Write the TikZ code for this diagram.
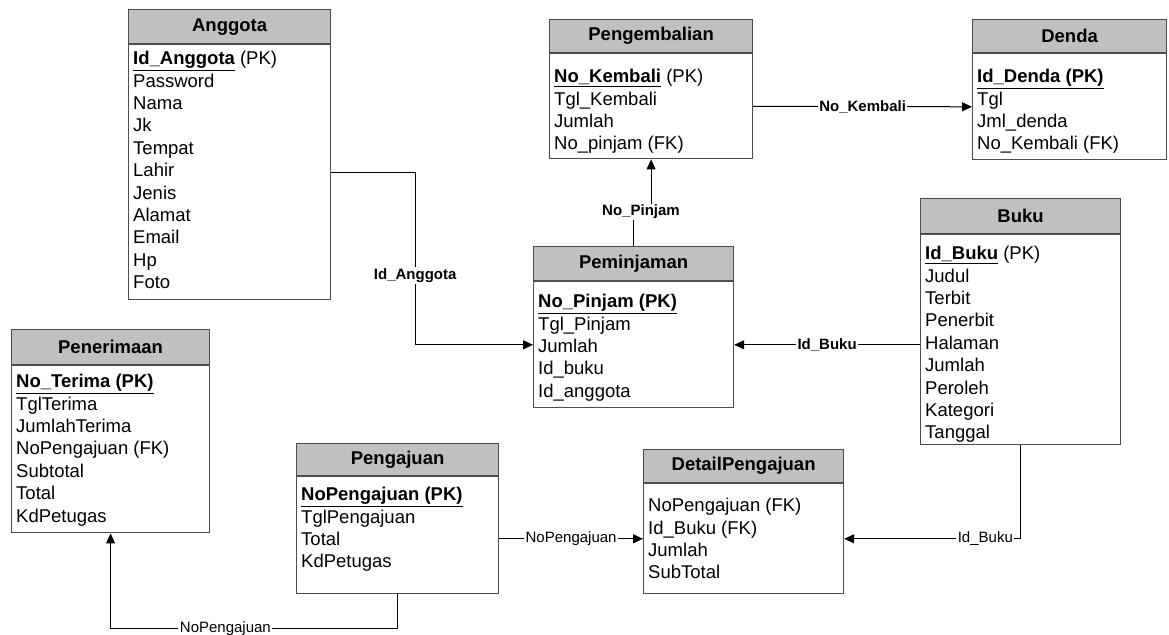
\documentclass[tikz,border=0pt]{standalone}
\usepackage{fontspec}
\setmainfont{Liberation Sans}
\usetikzlibrary{arrows.meta}

\definecolor{headgray}{HTML}{C0C0C0}
\definecolor{edgegray}{HTML}{4D4D4D}

\tikzset{
  ehead/.style={draw=edgegray, fill=headgray, line width=1.2pt, anchor=north west,
    inner sep=0pt, font=\fontsize{18.5pt}{22pt}\selectfont\bfseries},
  ebody/.style={draw=edgegray, fill=white, line width=1.2pt, anchor=north west, inner sep=0pt},
  attr/.style={anchor=base west, inner sep=0pt, font=\fontsize{18.5pt}{22pt}\selectfont},
  rel/.style={draw, line width=1pt, -{Triangle[length=10pt,width=9pt]}},
  keylbl/.style={fill=white, inner sep=1.5pt, font=\fontsize{15pt}{18pt}\selectfont\bfseries},
  reflbl/.style={fill=white, inner sep=1.5pt, font=\fontsize{15pt}{18pt}\selectfont},
}

\newcommand{\pkey}[1]{\textbf{\underline{#1}}}
% table: name, x, y, width, head height, body height, title
\newcommand{\entity}[7]{%
  \node[ehead, minimum width=#4pt, minimum height=#5pt] (#1) at (#2,#3) {#7};
  \node[ebody, minimum width=#4pt, minimum height=#6pt] (#1b) at (#1.south west) {};
}
% columns: name, first row offset, rows
\newcommand{\attrs}[3]{%
  \foreach \t [count=\i] in {#3}
    \node[attr] (#1-\i) at ([shift={(5,{#2+6.5+(\i-1)*22.4})}]#1b.north west) {\t};
}

\begin{document}
\begin{tikzpicture}[x=1pt, y=-1pt]
  \useasboundingbox[fill=white] (0,0) rectangle (1169,634);

  \entity{anggota}{128}{9}{202}{34}{255}{Anggota}
  \attrs{anggota}{14}{{\pkey{Id\_Anggota} (PK)}, Password, Nama, Jk, Tempat, Lahir,
    Jenis, Alamat, Email, Hp, Foto}

  \entity{pengembalian}{549}{19}{203}{33}{105}{Pengembalian}
  \attrs{pengembalian}{23}{{\pkey{No\_Kembali} (PK)}, Tgl\_Kembali, Jumlah, No\_pinjam (FK)}

  \entity{denda}{972}{19}{194}{33}{106}{Denda}
  \attrs{denda}{23}{\pkey{Id\_Denda (PK)}, Tgl, Jml\_denda, No\_Kembali (FK)}

  \entity{penerimaan}{11}{329}{198}{35}{167}{Penerimaan}
  \attrs{penerimaan}{16}{\pkey{No\_Terima (PK)}, TglTerima, JumlahTerima,
    NoPengajuan (FK), Subtotal, Total, KdPetugas}

  \entity{peminjaman}{533}{246}{200}{34}{126}{Peminjaman}
  \attrs{peminjaman}{20}{\pkey{No\_Pinjam (PK)}, Tgl\_Pinjam, Jumlah, Id\_buku, Id\_anggota}

  \entity{buku}{920}{198}{200}{35}{210}{Buku}
  \attrs{buku}{19}{{\pkey{Id\_Buku} (PK)}, Judul, Terbit, Penerbit, Halaman, Jumlah,
    Peroleh, Kategori, Tanggal}

  \entity{pengajuan}{296}{443}{202}{32}{117}{Pengajuan}
  \attrs{pengajuan}{18}{\pkey{NoPengajuan (PK)}, TglPengajuan, Total, KdPetugas}

  \entity{detail}{643}{449}{200}{33}{110}{DetailPengajuan}
  \attrs{detail}{22}{NoPengajuan (FK), Id\_Buku (FK), Jumlah, SubTotal}

  % relations
  \draw[rel] (anggotab.east) -- ++(84,0) |- (peminjamanb.west)
    node[keylbl, pos=0.3] (anggotalbl) {Id\_Anggota};
  \coordinate (jog) at (641,212);
  \draw[rel] (peminjaman.north) |- (jog) -| (pengembalianb.south);
  \node[keylbl] (pinjamlbl) at (jog) {No\_Pinjam};
  \draw[rel] (pengembalianb.east) -- (dendab.west)
    node[keylbl, midway] (kembalilbl) {No\_Kembali};
  \draw[rel] (bukub.west |- peminjamanb.east) -- (peminjamanb.east)
    node[keylbl, midway] (bukulbl) {Id\_Buku};
  \draw[rel] (bukub.south) |- (detailb.east)
    node[reflbl, pos=0.6] (detbukulbl) {Id\_Buku};
  \draw[rel] (pengajuanb.east |- detailb.west) -- (detailb.west)
    node[reflbl, midway] (ajulbl) {NoPengajuan};
  \draw[rel] (pengajuanb.south) -- ++(0,34) -| (penerimaanb.south)
    node[reflbl, pos=0.3] (terimalbl) {NoPengajuan};
\end{tikzpicture}
\end{document}
